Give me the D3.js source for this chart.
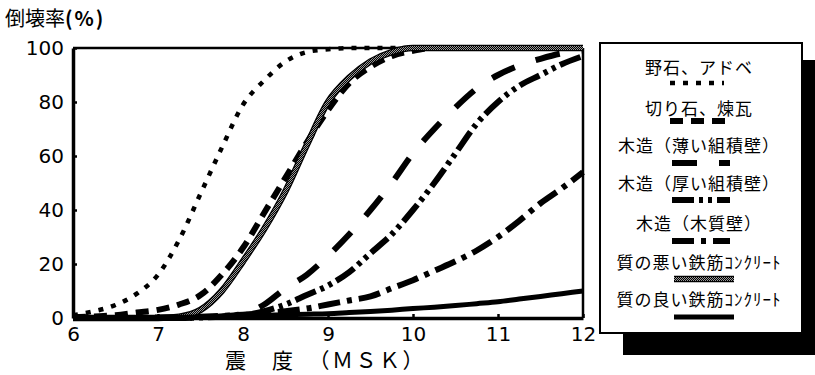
<!DOCTYPE html>
<html>
<head>
<meta charset="utf-8">
<script src="https://cdn.jsdelivr.net/npm/d3@7"></script>
<style>
  html, body { margin: 0; padding: 0; background: #fff; overflow: hidden; }
  svg { display: block; }
</style>
</head>
<body>
<svg id="chart"></svg>
<script>
// seismic intensity (MSK) sample points
const msk = [6, 6.25, 6.5, 6.75, 7, 7.25, 7.5, 7.75, 8, 8.25, 8.5, 8.75, 9,
  9.25, 9.5, 9.75, 10, 10.25, 10.5, 10.75, 11, 11.25, 11.5, 11.75, 12];

// collapse rate (%) per structure type
const adobe = [1, 2.5, 4.8, 9, 16, 29, 46, 63, 79, 88, 95, 98.5, 99.5,
  100, 100, 100, 100, 100, 100, 100, 100, 100, 100, 100, 100];
const brick = [0.3, 0.6, 1, 2, 3, 5, 8.5, 16, 26, 39, 52, 65, 77,
  87, 93, 97, 99, 100, 100, 100, 100, 100, 100, 100, 100];
const woodThin = [0, 0, 0, 0, 0, 0, 0.2, 0.6, 1.5, 5, 11, 16, 23,
  31, 40, 50, 61, 70, 78, 85, 90, 93.5, 96, 98, 99];
const woodThick = [0, 0, 0, 0, 0, 0, 0.2, 0.5, 1, 2.5, 5, 8.5, 12,
  17, 24, 31, 40, 50, 61, 72, 80, 86, 90, 94, 97];
const woodWall = [0, 0, 0, 0, 0.2, 0.3, 0.5, 0.8, 1.2, 1.8, 2.5, 3.5, 5,
  6.5, 8, 11, 14, 17.5, 21, 25, 30, 36, 42.5, 48, 54];
const rcPoor = [0, 0, 0, 0, 0, 0.5, 3, 10, 21, 33, 47, 64, 80,
  89, 95, 98.5, 100, 100, 100, 100, 100, 100, 100, 100, 100];
const rcGood = [0, 0, 0, 0, 0.2, 0.3, 0.4, 0.6, 0.8, 1, 1.2, 1.4, 1.6,
  2, 2.4, 2.9, 3.5, 4, 4.6, 5.3, 6, 7, 8, 9, 10];

const xTicks = [6, 7, 8, 9, 10, 11, 12];
const yTicks = [0, 20, 40, 60, 80, 100];

const seriesNames = ['野石、アドベ', '切り石、煉瓦', '木造（薄い組積壁）', '木造（厚い組積壁）',
  '木造（木質壁）', '質の悪い鉄筋ｺﾝｸﾘｰﾄ', '質の良い鉄筋ｺﾝｸﾘｰﾄ'];
const seriesValues = [adobe, brick, woodThin, woodThick, woodWall, rcPoor, rcGood];

const yTitle = '倒壊率';
const xTitle = '震　度　（ＭＳＫ）';

const styles = [
  { dash: '5,8', width: 4.5 },
  { dash: '13,8', width: 6 },
  { dash: '25,22', width: 6 },
  { dash: '22,5,4,5,4,5', width: 6 },
  { dash: '22,7,5,7', width: 6 },
  { gray: true, width: 6 },
  { dash: null, width: 5 }
];

const width = 815, height = 375;
const svg = d3.select('#chart')
  .attr('width', width)
  .attr('height', height)
  .attr('viewBox', `0 0 ${width} ${height}`);
const margin = { top: 48, left: 73, right: 232, bottom: 57 };
const innerWidth = width - margin.left - margin.right;
const innerHeight = height - margin.top - margin.bottom;

// checker pattern for the grey (poor RC) line
const defs = svg.append('defs');
const pat = defs.append('pattern')
  .attr('id', 'checker')
  .attr('width', 2).attr('height', 2)
  .attr('patternUnits', 'userSpaceOnUse');
pat.append('rect').attr('width', 2).attr('height', 2).attr('fill', '#999');
pat.append('rect').attr('width', 1).attr('height', 1).attr('fill', '#000');
pat.append('rect').attr('x', 1).attr('y', 1).attr('width', 1).attr('height', 1).attr('fill', '#000');

const g = svg.append('g')
  .attr('transform', `translate(${margin.left},${margin.top})`);

const x = d3.scaleLinear().domain([6, 12]).range([0, innerWidth]);
const y = d3.scaleLinear().domain([0, 100]).range([innerHeight, 0]);

// frame (top and right)
g.append('line').attr('x1', 0).attr('x2', innerWidth).attr('y1', 0).attr('y2', 0)
  .attr('stroke', '#000').attr('stroke-width', 2.5);
g.append('line').attr('x1', innerWidth).attr('x2', innerWidth).attr('y1', 0).attr('y2', innerHeight)
  .attr('stroke', '#000').attr('stroke-width', 2.5);

const line = d3.line()
  .x(d => x(d[0]))
  .y(d => y(d[1]))
  .curve(d3.curveMonotoneX);

function drawStyled(sel, st, d) {
  if (st.gray) {
    sel.append('path').attr('d', d).attr('fill', 'none')
      .attr('stroke', '#000').attr('stroke-width', st.width + 0.5);
    sel.append('path').attr('d', d).attr('fill', 'none')
      .attr('stroke', 'url(#checker)').attr('stroke-width', st.width - 2);
  } else {
    sel.append('path').attr('d', d).attr('fill', 'none')
      .attr('stroke', '#000')
      .attr('stroke-width', st.width)
      .attr('stroke-dasharray', st.dash);
  }
}

// curves
seriesValues.forEach((vals, i) => {
  const pts = msk.map((m, j) => [m, vals[j]]);
  drawStyled(g.append('g'), styles[i], line(pts));
});

// axes
const xAxis = g.append('g')
  .attr('transform', `translate(0,${innerHeight})`)
  .call(d3.axisBottom(x).tickValues(xTicks).tickFormat(d3.format('d'))
    .tickSizeInner(-4).tickSizeOuter(0).tickPadding(9));
const yAxis = g.append('g')
  .call(d3.axisLeft(y).tickValues(yTicks).tickFormat(d3.format('d'))
    .tickSizeInner(-4).tickSizeOuter(0).tickPadding(9));

[xAxis, yAxis].forEach(a => {
  a.attr('font-family', '"DejaVu Sans", sans-serif').attr('font-size', 20);
  a.select('.domain').attr('stroke', '#000').attr('stroke-width', 3.5);
  a.selectAll('.tick line').attr('stroke', '#000').attr('stroke-width', 2.5);
  a.selectAll('.tick text').attr('fill', '#000');
});

// axis titles
const yt = svg.append('text')
  .attr('x', 5).attr('y', 26)
  .attr('font-family', '"Noto Sans CJK JP", sans-serif')
  .attr('font-size', 20)
  .attr('fill', '#000');
yt.append('tspan').text(yTitle);
yt.append('tspan').attr('font-weight', 'bold').attr('letter-spacing', 2).text('(%)');

svg.append('text')
  .attr('x', 225).attr('y', 368)
  .attr('font-family', '"Noto Sans CJK JP", sans-serif')
  .attr('font-size', 21)
  .attr('letter-spacing', 2.5)
  .attr('fill', '#000')
  .text(xTitle);

// legend with drop shadow
const legend = svg.append('g');
legend.append('rect').attr('x', 623).attr('y', 60).attr('width', 192).attr('height', 295).attr('fill', '#000');
legend.append('rect').attr('x', 600).attr('y', 43).attr('width', 202).attr('height', 290)
  .attr('fill', '#fff').attr('stroke', '#000').attr('stroke-width', 2);

const labelY = [74, 115, 152, 190, 230, 269, 306];
const sampleY = [83, 121, 163, 200, 241, 279, 317];
const sampleX = [[670, 724], [670, 726], [672, 730], [672, 730], [672, 730], [674, 734], [674, 734]];

seriesNames.forEach((name, i) => {
  legend.append('text')
    .attr('x', 699).attr('y', labelY[i])
    .attr('text-anchor', 'middle')
    .attr('font-family', '"Noto Sans CJK JP", sans-serif')
    .attr('font-size', 17)
    .attr('letter-spacing', 1)
    .attr('fill', '#000')
    .text(name);
  const d = d3.line()([[sampleX[i][0], sampleY[i]], [sampleX[i][1], sampleY[i]]]);
  drawStyled(legend.append('g'), styles[i], d);
});
</script>
</body>
</html>
